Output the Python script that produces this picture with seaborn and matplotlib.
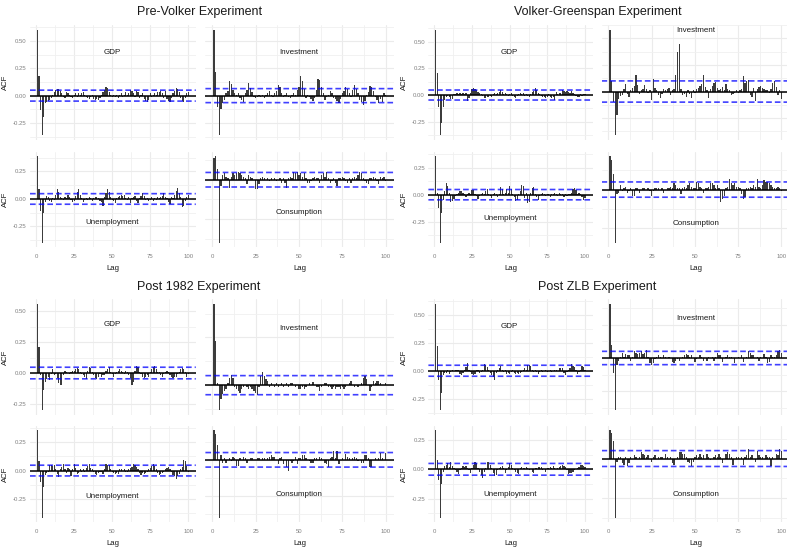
import numpy as np
import pandas as pd
import matplotlib
matplotlib.use("Agg")
import matplotlib.pyplot as plt
from matplotlib.ticker import MultipleLocator, FormatStrFormatter
import seaborn as sns

sns.set_theme(style="whitegrid")
plt.rcParams['font.family'] = ['Liberation Sans', 'DejaVu Sans']
plt.rcParams['axes.unicode_minus'] = False

# ---------------- data ----------------
lags = list(range(1, 101))
experiments = ["Pre-Volker Experiment", "Volker-Greenspan Experiment",
               "Post 1982 Experiment", "Post ZLB Experiment"]
variables = ["GDP", "Investment", "Unemployment", "Consumption"]

pre_volker_gdp = [0.60, 0.18, -0.13, -0.36, -0.20, -0.07, -0.06, -0.05, -0.04, -0.02,
                  0.01, 0.03, 0.05, 0.06, 0.06, 0.04, 0.02, -0.01, -0.02, 0.03,
                  0.02, 0.01, -0.01, -0.02, 0.01, 0.02, -0.01, 0.02, 0.01, 0.02,
                  0.03, 0.01, -0.01, -0.02, -0.03, -0.01, 0.01, -0.03, -0.04, -0.03,
                  -0.04, -0.02, 0.01, 0.03, 0.05, 0.08, 0.07, 0.03, 0.01, -0.01,
                  0.01, -0.01, 0.01, -0.02, 0.01, 0.02, -0.01, 0.01, 0.03, 0.01,
                  0.02, 0.05, 0.04, 0.02, -0.01, 0.04, 0.03, -0.02, 0.01, 0.02,
                  -0.03, -0.05, -0.06, -0.04, 0.02, -0.01, 0.01, 0.02, 0.01, 0.03,
                  0.03, 0.04, 0.02, -0.02, 0.04, -0.03, -0.05, -0.06, -0.02, 0.02,
                  0.04, 0.07, 0.06, 0.03, -0.02, -0.05, -0.06, -0.02, 0.02, 0.03]
pre_volker_inv = [0.60, 0.22, -0.10, -0.36, -0.12, -0.07, -0.04, 0.02, 0.04, 0.13,
                  0.11, 0.05, 0.02, 0.01, 0.02, -0.02, -0.04, -0.06, 0.02, 0.05,
                  0.12, 0.07, 0.03, -0.01, -0.02, -0.01, 0.01, -0.01, 0.01, -0.02,
                  0.01, 0.02, 0.04, 0.01, -0.01, 0.02, 0.04, 0.10, 0.08, 0.02,
                  -0.01, 0.01, 0.02, -0.01, -0.02, 0.01, 0.02, 0.01, 0.05, 0.08,
                  0.18, 0.13, 0.06, -0.02, 0.01, -0.01, -0.03, -0.05, -0.02, 0.05,
                  0.15, 0.14, 0.08, 0.02, -0.04, -0.01, 0.01, 0.04, 0.02, -0.02,
                  -0.03, -0.05, -0.07, -0.03, 0.02, 0.04, 0.08, 0.06, 0.02, -0.01,
                  0.05, 0.10, 0.06, 0.02, -0.04, -0.06, -0.09, -0.05, 0.01, 0.03,
                  0.09, 0.08, 0.04, -0.01, -0.04, -0.07, -0.03, -0.06, 0.02, 0.01]
pre_volker_unemp = [0.39, 0.09, -0.11, -0.40, -0.13, -0.03, 0.03, 0.02, -0.02, -0.03,
                    0.01, -0.01, 0.04, 0.09, 0.06, 0.02, 0.01, -0.01, 0.02, 0.01,
                    0.04, 0.02, -0.01, -0.03, -0.02, 0.03, 0.06, 0.09, 0.04, 0.01,
                    -0.03, -0.01, 0.01, -0.01, 0.02, 0.01, -0.02, 0.01, 0.02, 0.02,
                    0.01, -0.02, -0.03, -0.06, 0.02, 0.05, 0.09, 0.06, 0.02, -0.01,
                    -0.02, -0.04, 0.01, 0.02, 0.03, 0.04, 0.03, 0.04, 0.01, -0.01,
                    0.02, -0.04, 0.01, 0.02, 0.03, -0.02, -0.04, 0.01, 0.03, 0.05,
                    0.03, -0.01, 0.01, -0.02, -0.01, 0.02, -0.02, 0.01, -0.01, 0.02,
                    0.01, 0.02, 0.03, 0.05, 0.02, 0.01, -0.03, -0.05, 0.02, 0.01,
                    0.04, 0.07, 0.10, 0.05, 0.02, -0.07, -0.06, -0.02, 0.02, 0.04]
pre_volker_cons = [0.14, 0.15, 0.07, -0.40, -0.04, 0.03, 0.04, 0.02, 0.01, -0.05,
                   0.02, 0.04, 0.03, 0.04, 0.05, 0.04, 0.03, 0.02, 0.01, -0.03,
                   0.03, 0.02, 0.01, 0.00, -0.06, -0.06, -0.03, 0.01, 0.02, 0.01,
                   0.00, 0.01, -0.01, 0.01, 0.00, 0.01, -0.01, 0.00, 0.01, -0.02,
                   0.01, -0.02, -0.05, 0.01, 0.02, 0.01, 0.05, 0.04, 0.05, 0.03,
                   0.04, 0.02, 0.04, 0.01, -0.02, -0.02, -0.01, 0.01, 0.02, 0.01,
                   0.01, -0.02, 0.03, 0.04, 0.02, 0.05, 0.01, -0.02, -0.01, 0.01,
                   -0.02, -0.04, 0.01, 0.01, 0.02, 0.01, -0.01, -0.02, 0.01, -0.02,
                   0.01, 0.02, 0.01, 0.03, 0.05, 0.04, 0.01, -0.01, -0.02, -0.03,
                   0.01, 0.01, 0.02, 0.01, -0.01, -0.03, 0.02, 0.01, 0.02, -0.01]

vg_gdp = [0.61, 0.21, -0.11, -0.375, -0.26, -0.11, -0.05, -0.02, -0.01, -0.02,
          -0.04, -0.04, 0.01, 0.01, 0.02, 0.01, 0.02, 0.01, 0.02, 0.01,
          0.02, -0.06, -0.03, 0.02, 0.06, 0.07, 0.06, 0.05, 0.03, 0.02,
          0.01, -0.01, -0.03, -0.03, -0.02, -0.02, -0.01, -0.02, 0.01, 0.02,
          0.01, 0.02, 0.03, 0.05, 0.03, 0.01, 0.02, 0.01, -0.01, 0.01,
          0.02, -0.01, -0.02, -0.03, -0.01, 0.01, 0.02, 0.01, 0.02, -0.01,
          0.01, -0.01, -0.02, 0.01, 0.03, 0.04, 0.07, 0.05, 0.02, 0.01,
          -0.01, -0.02, -0.02, -0.03, -0.02, 0.01, -0.02, -0.03, -0.02, -0.05,
          0.03, 0.01, 0.02, 0.02, 0.05, 0.04, 0.03, 0.04, 0.03, 0.02,
          0.04, 0.02, 0.01, -0.01, -0.02, -0.02, 0.01, -0.01, 0.01, 0.01]
vg_inv = [0.58, 0.10, -0.10, -0.41, -0.22, -0.07, -0.04, -0.03, 0.02, 0.07,
          -0.02, -0.05, 0.01, 0.03, 0.05, 0.16, 0.06, -0.02, 0.01, 0.02,
          0.06, 0.02, -0.01, 0.01, -0.08, 0.12, 0.03, 0.01, -0.03, -0.06,
          -0.02, 0.02, 0.01, 0.02, 0.03, -0.03, 0.01, 0.02, 0.16, 0.37,
          0.45, 0.02, -0.03, -0.02, -0.05, 0.01, -0.02, -0.06, 0.01, -0.01,
          0.02, 0.03, 0.05, 0.07, 0.16, 0.04, 0.01, -0.06, 0.02, 0.05,
          0.08, 0.09, 0.03, 0.01, 0.02, 0.04, 0.01, 0.07, 0.02, 0.01,
          -0.03, -0.02, -0.01, 0.01, -0.01, 0.01, 0.02, 0.15, 0.08, 0.10,
          0.11, -0.03, -0.05, 0.03, -0.09, 0.02, 0.04, 0.05, 0.03, 0.02,
          0.01, 0.01, -0.01, 0.02, 0.08, 0.10, 0.04, -0.03, 0.01, -0.07]
vg_unemp = [0.36, 0.02, -0.12, -0.45, -0.17, -0.05, 0.03, 0.11, 0.08, 0.02,
            -0.07, -0.06, -0.04, -0.01, 0.01, 0.02, 0.03, 0.03, 0.02, 0.01,
            -0.02, 0.01, 0.02, 0.01, 0.04, 0.04, 0.01, -0.01, -0.04, -0.01,
            0.01, 0.02, 0.01, 0.03, 0.05, 0.01, -0.01, -0.03, 0.01, 0.02,
            0.01, -0.02, 0.01, 0.07, 0.05, 0.01, 0.02, 0.05, 0.02, 0.08,
            0.05, 0.01, -0.02, -0.06, -0.05, 0.01, 0.03, 0.09, 0.08, -0.03,
            0.02, -0.08, -0.07, 0.02, 0.06, 0.07, 0.01, -0.02, -0.05, -0.01,
            0.01, 0.02, 0.01, -0.01, 0.01, 0.01, -0.02, 0.01, 0.01, 0.02,
            0.01, -0.01, 0.02, 0.01, 0.01, -0.02, 0.01, -0.01, 0.01, 0.01,
            0.02, 0.05, 0.06, 0.04, 0.01, 0.02, 0.01, -0.02, -0.05, -0.03]
vg_cons = [0.22, 0.195, 0.10, -0.35, -0.03, -0.02, 0.03, -0.01, 0.01, 0.02,
           -0.02, -0.01, 0.01, -0.04, -0.04, 0.01, 0.01, -0.02, 0.00, 0.01,
           0.01, 0.00, 0.01, -0.01, -0.04, -0.01, 0.01, 0.01, 0.01, 0.00,
           0.01, -0.02, 0.00, 0.01, 0.01, 0.02, 0.01, 0.04, 0.03, 0.01,
           0.01, -0.03, 0.01, 0.02, 0.01, 0.03, 0.04, 0.02, 0.01, 0.01,
           0.05, 0.04, 0.02, 0.01, -0.02, 0.01, 0.01, 0.02, 0.04, 0.04,
           0.03, 0.01, 0.03, 0.01, -0.08, -0.06, -0.04, 0.01, 0.02, 0.07,
           0.04, 0.03, 0.04, 0.02, 0.02, 0.01, -0.03, -0.06, -0.05, 0.01,
           0.01, 0.02, 0.01, 0.03, 0.02, 0.07, 0.02, 0.01, 0.03, 0.06,
           0.05, 0.05, 0.04, 0.03, 0.02, 0.01, 0.01, 0.02, 0.01, -0.01]

p82_gdp = [0.56, 0.21, -0.02, -0.30, -0.14, -0.07, -0.05, -0.03, -0.06, -0.01,
           0.03, -0.02, -0.01, -0.04, -0.08, -0.10, -0.10, -0.02, 0.02, 0.01,
           0.00, -0.01, 0.01, 0.02, 0.02, 0.03, 0.04, 0.03, 0.01, -0.01,
           -0.02, -0.03, -0.05, 0.02, 0.05, 0.04, 0.01, -0.02, -0.04, -0.05,
           -0.03, -0.01, -0.03, -0.02, -0.02, 0.02, 0.03, 0.05, 0.01, -0.01,
           -0.03, -0.01, 0.01, 0.02, 0.03, 0.02, 0.01, -0.01, 0.02, 0.01,
           -0.02, -0.04, -0.10, -0.07, 0.02, 0.06, 0.05, 0.01, -0.01, -0.03,
           -0.04, -0.03, -0.02, -0.03, 0.01, 0.03, 0.05, 0.06, 0.03, 0.01,
           0.01, -0.02, -0.03, -0.01, 0.01, 0.02, 0.01, -0.02, -0.03, -0.04,
           -0.03, -0.03, -0.01, 0.01, 0.03, 0.04, 0.03, 0.01, -0.03, -0.01]
p82_inv = [0.425, 0.23, 0.01, -0.13, -0.07, -0.045, -0.03, -0.02, 0.01, 0.04,
           0.055, 0.035, -0.01, -0.02, -0.03, -0.04, -0.02, -0.01, 0.00, -0.01,
           -0.02, -0.01, -0.02, -0.03, -0.04, -0.05, -0.01, 0.05, 0.07, 0.05,
           0.03, 0.02, -0.01, 0.01, 0.00, -0.01, 0.01, -0.01, 0.00, 0.01,
           -0.01, 0.00, 0.01, -0.01, 0.01, 0.01, 0.00, -0.01, 0.00, -0.02,
           -0.02, -0.01, -0.02, -0.01, 0.00, 0.01, 0.00, 0.015, 0.00, -0.01,
           -0.01, -0.03, -0.01, 0.00, 0.01, 0.01, -0.01, -0.01, -0.02, -0.01,
           -0.02, -0.01, -0.01, -0.02, -0.01, -0.02, -0.01, 0.00, 0.01, 0.02,
           0.00, -0.01, 0.00, -0.01, 0.00, 0.01, 0.04, 0.05, 0.03, 0.00,
           -0.03, -0.01, 0.02, 0.01, 0.02, 0.02, 0.01, 0.00, 0.00, 0.01]
p82_unemp = [0.355, 0.08, -0.10, -0.415, -0.14, -0.04, -0.02, -0.01, 0.05, 0.05,
             0.04, 0.05, 0.01, -0.03, -0.06, 0.01, 0.03, 0.06, 0.01, -0.02,
             0.02, 0.01, -0.05, 0.01, 0.06, 0.02, -0.03, -0.02, 0.01, -0.01,
             0.01, -0.01, 0.02, 0.04, 0.06, 0.02, 0.01, -0.01, -0.03, -0.04,
             -0.02, -0.01, -0.01, -0.03, 0.01, 0.06, 0.05, 0.05, 0.01, -0.01,
             -0.02, -0.03, -0.02, -0.03, 0.01, 0.01, 0.00, 0.01, -0.01, -0.01,
             0.01, 0.02, 0.03, 0.06, 0.05, 0.03, 0.01, -0.02, -0.04, -0.02,
             -0.03, -0.02, -0.01, 0.01, 0.02, 0.04, 0.06, 0.04, 0.01, -0.02,
             -0.04, -0.03, -0.02, -0.01, 0.01, 0.02, 0.03, 0.01, -0.01, -0.04,
             -0.05, -0.07, -0.05, -0.03, 0.01, 0.03, 0.09, 0.08, 0.04, -0.01]
p82_cons = [0.205, 0.18, 0.10, -0.40, 0.035, -0.02, 0.01, -0.02, 0.00, 0.01,
            -0.01, 0.02, 0.01, -0.045, -0.04, 0.01, 0.00, 0.02, 0.01, -0.02,
            0.00, 0.01, 0.01, 0.00, 0.00, 0.01, 0.01, 0.00, 0.01, 0.01,
            0.00, 0.01, 0.02, 0.03, 0.02, 0.02, 0.00, -0.03, 0.01, 0.02,
            -0.03, 0.00, -0.05, -0.08, -0.01, -0.02, -0.01, 0.02, -0.03, 0.01,
            0.01, 0.03, 0.03, 0.01, 0.00, -0.01, -0.02, -0.02, 0.01, 0.01,
            0.00, 0.02, 0.01, 0.00, -0.02, -0.03, -0.05, 0.01, 0.02, 0.06,
            0.01, 0.06, -0.03, 0.00, 0.01, 0.00, 0.04, 0.02, 0.01, 0.00,
            0.01, 0.02, 0.01, -0.01, 0.00, -0.02, -0.02, 0.03, 0.03, 0.01,
            -0.05, -0.05, 0.00, 0.01, 0.00, 0.01, 0.05, 0.01, 0.00, 0.05]

zlb_gdp = [0.595, 0.22, -0.08, -0.35, -0.20, -0.04, -0.02, -0.02, 0.01, -0.03,
           -0.01, 0.01, 0.00, 0.01, 0.01, 0.01, -0.03, -0.04, -0.02, 0.01,
           0.03, 0.07, 0.01, -0.01, -0.03, -0.04, -0.03, 0.01, 0.01, -0.02,
           -0.01, 0.01, 0.06, 0.05, 0.03, 0.01, -0.02, -0.04, -0.06, -0.08,
           -0.02, 0.01, 0.02, 0.04, 0.01, -0.01, 0.01, -0.03, -0.02, -0.03,
           -0.01, 0.01, -0.02, -0.03, -0.02, -0.03, -0.02, -0.01, 0.01, 0.02,
           0.01, 0.05, 0.05, 0.04, 0.01, -0.01, 0.01, -0.01, -0.03, -0.01,
           0.01, -0.01, 0.00, 0.01, -0.01, 0.00, 0.01, -0.01, 0.00, 0.01,
           0.01, 0.00, 0.02, 0.02, 0.02, -0.02, -0.04, -0.01, 0.01, 0.02,
           0.06, 0.04, 0.03, 0.01, -0.03, -0.01, 0.01, 0.04, 0.03, 0.01]
zlb_inv = [0.405, 0.10, -0.11, -0.39, -0.05, -0.025, 0.01, 0.04, 0.01, 0.03,
           0.02, 0.02, -0.02, 0.01, 0.05, 0.04, 0.03, 0.04, 0.05, 0.03,
           0.04, 0.06, 0.01, -0.04, -0.05, -0.04, -0.01, 0.01, 0.02, 0.01,
           0.00, 0.02, 0.01, 0.00, 0.01, 0.00, -0.03, -0.04, -0.02, -0.01,
           -0.02, 0.00, 0.01, 0.02, 0.03, 0.02, 0.01, 0.02, 0.00, -0.03,
           -0.01, 0.00, 0.02, 0.01, -0.02, 0.00, -0.02, 0.01, 0.00, 0.01,
           -0.02, 0.01, 0.04, 0.02, 0.02, -0.03, 0.00, 0.01, 0.02, 0.01,
           0.01, 0.00, -0.04, 0.00, 0.01, 0.00, 0.02, -0.03, 0.00, 0.01,
           0.05, 0.04, 0.02, 0.02, 0.00, 0.01, -0.02, 0.01, 0.00, 0.03,
           0.01, -0.04, -0.03, 0.02, 0.01, 0.01, 0.02, 0.05, 0.06, 0.04]
zlb_unemp = [0.335, 0.08, -0.09, -0.415, -0.125, -0.02, 0.03, 0.04, 0.05, 0.02,
             0.06, 0.03, 0.01, -0.01, -0.02, -0.04, -0.01, 0.01, 0.03, 0.02,
             0.03, 0.01, -0.01, -0.03, 0.01, 0.04, 0.06, 0.05, 0.01, -0.02,
             -0.05, -0.07, -0.02, 0.01, 0.06, 0.06, 0.04, 0.01, -0.03, -0.06,
             -0.05, -0.01, 0.01, 0.02, 0.03, 0.01, -0.03, -0.01, 0.02, 0.05,
             0.04, 0.01, -0.01, -0.02, -0.03, -0.04, 0.01, 0.02, 0.01, 0.01,
             0.02, 0.01, -0.01, 0.00, -0.02, -0.03, 0.01, 0.01, 0.02, 0.02,
             0.02, -0.01, 0.00, -0.02, 0.01, 0.01, 0.02, 0.01, 0.03, 0.01,
             0.00, 0.01, 0.02, 0.03, 0.04, 0.03, 0.02, -0.01, -0.04, -0.03,
             -0.03, -0.02, -0.01, 0.00, 0.01, 0.02, 0.04, 0.04, 0.03, 0.02]
zlb_cons = [0.18, 0.16, 0.11, -0.375, -0.02, 0.01, 0.01, -0.03, -0.04, 0.01,
            -0.05, -0.03, 0.01, 0.00, 0.02, 0.01, 0.00, 0.01, 0.04, 0.03,
            0.02, 0.01, 0.02, 0.00, -0.02, 0.01, 0.02, 0.00, 0.01, 0.01,
            0.01, 0.00, 0.03, 0.01, 0.00, 0.01, -0.03, -0.04, 0.00, 0.01,
            0.04, 0.04, 0.03, 0.03, 0.01, -0.02, -0.03, -0.05, -0.02, 0.01,
            0.02, 0.01, 0.03, 0.01, 0.02, 0.00, 0.03, 0.01, -0.01, 0.00,
            0.01, 0.02, 0.01, 0.03, 0.01, -0.03, 0.00, 0.03, 0.04, 0.03,
            0.01, -0.04, 0.00, 0.01, 0.01, 0.00, 0.01, -0.04, 0.01, 0.02,
            0.06, 0.01, 0.02, 0.00, -0.02, 0.05, 0.02, 0.01, 0.01, 0.00,
            0.02, 0.01, 0.01, -0.05, 0.01, 0.00, 0.03, 0.02, 0.06, 0.05]

# 95% confidence bounds (GDP, Investment, Unemployment, Consumption)
pre_volker_ci = [0.050, 0.064, 0.048, 0.046]
vg_ci = [0.047, 0.100, 0.048, 0.050]
p82_ci = [0.047, 0.050, 0.047, 0.050]
zlb_ci = [0.049, 0.050, 0.050, 0.050]

series = {
    experiments[0]: [pre_volker_gdp, pre_volker_inv, pre_volker_unemp, pre_volker_cons],
    experiments[1]: [vg_gdp, vg_inv, vg_unemp, vg_cons],
    experiments[2]: [p82_gdp, p82_inv, p82_unemp, p82_cons],
    experiments[3]: [zlb_gdp, zlb_inv, zlb_unemp, zlb_cons],
}
bounds = {experiments[0]: pre_volker_ci, experiments[1]: vg_ci,
          experiments[2]: p82_ci, experiments[3]: zlb_ci}

# ---------------- layout (pixels) ----------------
W, H = 787, 548
fig = plt.figure(figsize=(W / 100, H / 100), dpi=100)
fig.patch.set_facecolor("white")

cols_left = [(30.0, 195.8), (205.4, 394.3)]
cols_right = [(428.4, 592.5), (601.5, 790.0)]
rows_top = [(24.75, 140.25), (151.65, 247.35)]
rows_bot = [(298.7, 415.3), (425.6, 522.4)]
block_layout = {
    experiments[0]: (cols_left, rows_top, 200, 12.5),
    experiments[1]: (cols_right, rows_top, 598, 12.5),
    experiments[2]: (cols_left, rows_bot, 199, 287),
    experiments[3]: (cols_right, rows_bot, 597, 287),
}
label_px = {
    experiments[0]: [(112, 53), (299, 52), (112, 223), (299, 213)],
    experiments[1]: [(509, 53), (696, 31), (510, 218), (696, 224)],
    experiments[2]: [(112, 325), (299, 328), (112, 496), (299, 495)],
    experiments[3]: [(509, 327), (696, 318), (510, 495), (696, 494)],
}

tick_color = "#808080"
spike_color = "#3c3c3c"
ci_color = "#0000FF"


def add_axes_px(x0, x1, y0, y1):
    return fig.add_axes([x0 / W, 1 - y1 / H, (x1 - x0) / W, (y1 - y0) / H])


for exp in experiments:
    cols, rows, tx, ty = block_layout[exp]
    fig.text(tx / W, 1 - ty / H, exp, ha="center", va="center",
             fontsize=9, color="#1a1a1a")
    for k, var in enumerate(variables):
        r, c = divmod(k, 2)
        (x0, x1), (y0, y1) = cols[c], rows[r]
        ax = add_axes_px(x0, x1, y0, y1)
        ax.set_facecolor("white")
        vals = series[exp][k]
        ci = bounds[exp][k]
        df = pd.DataFrame({"lag": lags, "acf": vals})
        sns.barplot(data=df, x="lag", y="acf", native_scale=True, width=0.75,
                    color=spike_color, saturation=1, linewidth=0, ax=ax, zorder=3)
        xr = max(lags) - min(lags)
        xlo, xhi = min(lags) - 0.05 * xr, max(lags) + 0.05 * xr
        ax.plot([xlo, xhi], [0, 0], color="black", lw=1.1, zorder=4,
                solid_capstyle="butt")
        for b in (ci, -ci):
            ax.plot([xlo, xhi], [b, b], color=ci_color, lw=1.2, alpha=0.75,
                    ls=(0, (3.4, 1.8)), zorder=6, dash_capstyle="butt",
                    snap=False)
        lo = min(min(vals), -ci, 0.0)
        hi = max(max(vals), ci)
        pad = 0.05 * (hi - lo)
        ax.set_ylim(lo - pad, hi + pad)
        ax.set_xlim(xlo, xhi)

        ax.xaxis.set_major_locator(MultipleLocator(25))
        ax.xaxis.set_minor_locator(MultipleLocator(12.5))
        ax.yaxis.set_major_locator(MultipleLocator(0.25))
        ax.yaxis.set_minor_locator(MultipleLocator(0.125))
        ax.yaxis.set_major_formatter(FormatStrFormatter("%.2f"))
        ax.grid(which="major", color="#EBEBEB", lw=0.8, zorder=0)
        ax.grid(which="minor", color="#F0F0F0", lw=0.6, zorder=0)
        ax.set_axisbelow(True)
        for s in ax.spines.values():
            s.set_visible(False)
        ax.tick_params(which="both", length=0, labelsize=4.3,
                       labelcolor=tick_color, pad=2.5)
        ax.tick_params(axis="x", pad=5)
        ax.set_xlabel("")
        ax.set_ylabel("")
        if c == 0:
            ax.set_ylabel("ACF", fontsize=5.6, color="#1a1a1a", labelpad=2.5)
        else:
            ax.tick_params(labelleft=False)
        if r == 1:
            ax.set_xlabel("Lag", fontsize=5.6, color="#1a1a1a", labelpad=4)
            ax.xaxis.set_major_formatter(FormatStrFormatter("%d"))
        else:
            ax.tick_params(labelbottom=False)
        lx, ly = label_px[exp][k]
        fig.text(lx / W, 1 - ly / H, var, ha="center", va="center",
                 fontsize=5.8, color="#1a1a1a", zorder=10)

fig.savefig("out.png", dpi=100, facecolor="white")
